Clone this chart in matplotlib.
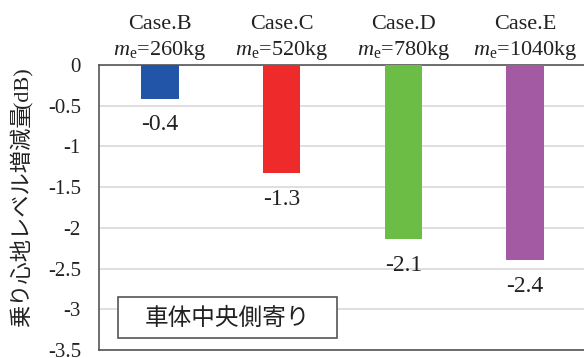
import matplotlib
matplotlib.use("Agg")
import matplotlib.pyplot as plt
from matplotlib.patches import Rectangle
import numpy as np

cases = ["Case.B", "Case.C", "Case.D", "Case.E"]
masses = ["260", "520", "780", "1040"]
values = [-0.42, -1.33, -2.14, -2.40]
value_labels = ["-0.4", "-1.3", "-2.1", "-2.4"]
colors = ["#2255a8", "#ee2a2a", "#6cbd45", "#a45aa2"]
yticks = [0, -0.5, -1, -1.5, -2, -2.5, -3, -3.5]
ytick_labels = ["0", "-0.5", "-1", "-1.5", "-2", "-2.5", "-3", "-3.5"]

plt.rcParams['mathtext.fontset'] = 'custom'
plt.rcParams['mathtext.rm'] = 'Liberation Serif'
plt.rcParams['mathtext.it'] = 'Liberation Serif:italic'

W, H = 584, 358
fig = plt.figure(figsize=(W/100, H/100), dpi=100)
ax = fig.add_axes([99/W, 1-350/H, 487/W, 285/H])

x = np.arange(len(cases))
ax.bar(x, values, width=0.31, color=colors, zorder=3)
ax.set_xlim(-0.5, 3.5)
ax.set_ylim(-3.5, 0)
ax.set_yticks(yticks)
ax.set_yticklabels(ytick_labels, family="Liberation Serif", fontsize=15, color='#222222')
ax.tick_params(axis='y', length=0, pad=13)
ax.set_xticks([])
ax.grid(axis='y', color='#d9d9d9', linewidth=1.2, zorder=0)
for s in ['left', 'top', 'bottom']:
    ax.spines[s].set_color('#555555')
    ax.spines[s].set_linewidth(1.2)
ax.spines['right'].set_visible(False)

for xi, v, lab in zip(x, values, value_labels):
    ax.annotate(lab, (xi, v), xytext=(0, -11), textcoords='offset points',
                ha='center', va='top', fontsize=17,
                family="Liberation Serif", color='#222222')

for xi, c, m in zip(x, cases, masses):
    ax.annotate(c, (xi, 1.0), xycoords=ax.get_xaxis_transform(),
                xytext=(0, 26), textcoords='offset points', ha='center', va='baseline',
                fontsize=16, family="Liberation Serif", color='#222222')
    ax.annotate(r"$m_{\mathrm{e}}$=" + m + "kg", (xi, 1.0), xycoords=ax.get_xaxis_transform(),
                xytext=(0, 7), textcoords='offset points', ha='center', va='baseline',
                fontsize=16, family="Liberation Serif", color='#222222')

fig.text(22/W, 1-216/H, "乗り心地レベル増減量", rotation=90, ha='center', va='center',
         fontsize=16, family=["Noto Sans CJK JP", "DejaVu Sans"], color='#222222')
fig.text(24/W, 1-88/H, "(dB)", rotation=90, ha='center', va='center',
         fontsize=16, family="Liberation Serif", color='#222222')

fig.add_artist(Rectangle((118/W, 1-338/H), 219/W, 41/H, transform=fig.transFigure,
                         facecolor='white', edgecolor='#555555', linewidth=1.2, zorder=5))
fig.text(227/W, 1-318/H, "車体中央側寄り", ha='center', va='center',
         fontsize=17, family=["Noto Sans CJK JP", "DejaVu Sans"], color='#222222', zorder=6)

fig.savefig("out.png", dpi=100)
